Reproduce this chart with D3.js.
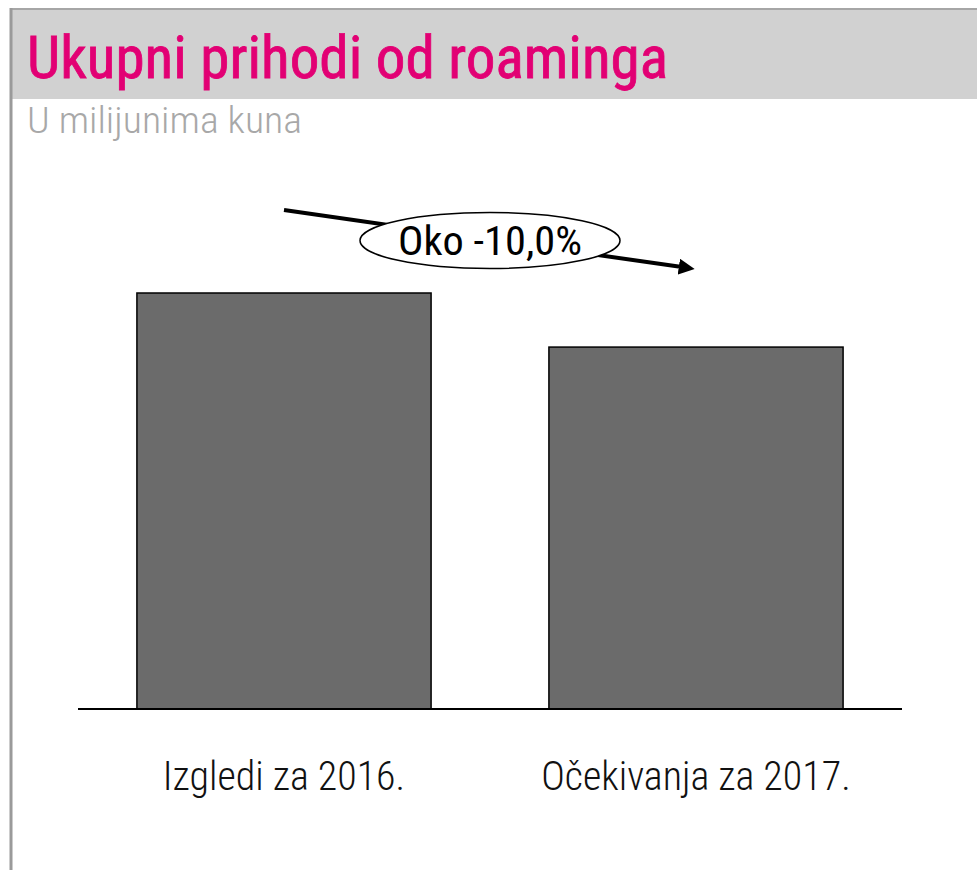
<!DOCTYPE html>
<html>
<head>
<meta charset="utf-8">
<script src="https://cdn.jsdelivr.net/npm/d3@7"></script>
<style>
  body { margin: 0; background: #fff; }
  text { font-family: "Liberation Sans Narrow", "Roboto Condensed", "Liberation Sans", sans-serif; }
</style>
</head>
<body>
<script>
var w = 977;
var h = 870;

// data
var categories = ["Izgledi za 2016.", "Očekivanja za 2017."];
var values = [100, 87];
var changeLabel = "Oko -10,0%";

var svg = d3.select("body")
  .append("svg")
  .attr("width", w)
  .attr("height", h);

// header band + frame
svg.append("rect")
  .attr("x", 11).attr("y", 9)
  .attr("width", w - 11).attr("height", 90)
  .attr("fill", "#d1d1d1");
svg.append("line")
  .attr("x1", 10).attr("x2", w).attr("y1", 9).attr("y2", 9)
  .attr("stroke", "#a6a6a6").attr("stroke-width", 2);
svg.append("line")
  .attr("x1", 11).attr("x2", 11).attr("y1", 8).attr("y2", h)
  .attr("stroke", "#9a9a9a").attr("stroke-width", 3);

svg.append("text")
  .attr("x", 27).attr("y", 78)
  .attr("font-size", 59)
  .attr("font-weight", "normal")
  .attr("fill", "#e20074")
  .attr("stroke", "#e20074")
  .attr("stroke-width", 0.8)
  .attr("textLength", 641)
  .attr("lengthAdjust", "spacingAndGlyphs")
  .text("Ukupni prihodi od roaminga");

svg.append("text")
  .attr("x", 27).attr("y", 133)
  .attr("font-size", 37)
  .attr("font-weight", "300")
  .attr("fill", "#a8a8a8")
  .attr("textLength", 275)
  .attr("lengthAdjust", "spacingAndGlyphs")
  .text("U milijunima kuna");

// scales
var x = d3.scaleBand()
  .domain(categories)
  .range([78, 902])
  .paddingInner(0.286)
  .paddingOuter(0.143);

var y = d3.scaleLinear()
  .domain([0, d3.max(values)])
  .range([709, 293]);

svg.selectAll("rect.bar")
  .data(values)
  .enter()
  .append("rect")
  .attr("class", "bar")
  .attr("x", function (d, i) { return x(categories[i]); })
  .attr("y", function (d) { return y(d); })
  .attr("width", x.bandwidth())
  .attr("height", function (d) { return y(0) - y(d); })
  .attr("fill", "#6b6b6b")
  .attr("stroke", "#000")
  .attr("stroke-width", 1.5);

// baseline
svg.append("line")
  .attr("x1", 78).attr("x2", 902)
  .attr("y1", y(0)).attr("y2", y(0))
  .attr("stroke", "#000").attr("stroke-width", 2);

// category labels
svg.selectAll("text.cat")
  .data(categories)
  .enter()
  .append("text")
  .attr("class", "cat")
  .attr("x", function (d) { return x(d) + x.bandwidth() / 2; })
  .attr("y", 790)
  .attr("text-anchor", "middle")
  .attr("font-size", 40)
  .attr("font-weight", "300")
  .attr("fill", "#111")
  .text(function (d) { return d; });

// trend arrow
svg.append("defs").append("marker")
  .attr("id", "arr")
  .attr("viewBox", "0 0 10 10")
  .attr("refX", 2).attr("refY", 5)
  .attr("markerWidth", 4).attr("markerHeight", 4)
  .attr("orient", "auto")
  .append("path")
  .attr("d", "M0,0 L10,5 L0,10 z")
  .attr("fill", "#000");

var x1 = x(categories[0]) + x.bandwidth() / 2;
var x2 = x(categories[1]) + x.bandwidth() / 2 - 14;
var y1 = y(values[0]) - 83;
var y2 = y(values[1]) - 80;

svg.append("line")
  .attr("x1", x1).attr("y1", y1)
  .attr("x2", x2).attr("y2", y2)
  .attr("stroke", "#000").attr("stroke-width", 4)
  .attr("marker-end", "url(#arr)");

var cx = (x1 + x2) / 2 + 7;
var cy = (y1 + y2) / 2 + 2;
svg.append("ellipse")
  .attr("cx", cx).attr("cy", cy)
  .attr("rx", 130).attr("ry", 28)
  .attr("fill", "#fff")
  .attr("stroke", "#000").attr("stroke-width", 1.5);

svg.append("text")
  .attr("x", cx).attr("y", cy + 14)
  .attr("text-anchor", "middle")
  .attr("font-size", 41)
  .attr("font-weight", "normal")
  .attr("fill", "#000")
  .attr("textLength", 184)
  .attr("lengthAdjust", "spacingAndGlyphs")
  .text(changeLabel);
</script>
</body>
</html>
